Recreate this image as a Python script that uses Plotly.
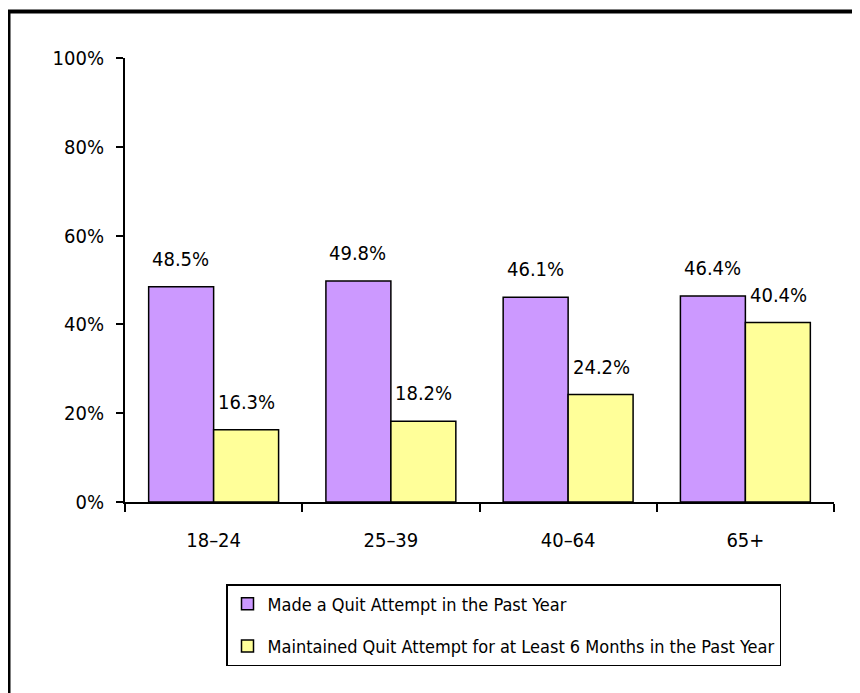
import plotly.graph_objects as go

categories = ["18–24", "25–39", "40–64", "65+"]
made_attempt = [48.5, 49.8, 46.1, 46.4]
maintained = [16.3, 18.2, 24.2, 40.4]
series_names = ["Made a Quit Attempt in the Past Year",
                "Maintained Quit Attempt for at Least 6 Months in the Past Year"]
y_ticks = [0, 20, 40, 60, 80, 100]

FONT = "DejaVu Sans Condensed, Liberation Sans Narrow, Arial Narrow, sans-serif"
W, H = 852, 685
L, R, T, B = 117, 26, 50, 191

fig = go.Figure()
fig.add_bar(x=categories, y=made_attempt, name=series_names[0],
            marker=dict(color="#CC99FF", line=dict(color="black", width=1.5)),
            legendgroup="a")
fig.add_bar(x=categories, y=maintained, name=series_names[1],
            marker=dict(color="#FFFF99", line=dict(color="black", width=1.5)),
            legendgroup="b")

for vals, shift in ((made_attempt, -33), (maintained, 33)):
    for c, v in zip(categories, vals):
        fig.add_annotation(x=c, y=v, text=f"{v:.1f}%", showarrow=False,
                           xshift=shift, yshift=28, xref="x", yref="y",
                           font=dict(family=FONT, size=20, color="black"))

pw = W - L - R
ph = H - T - B
fig.add_shape(type="rect", xref="paper", yref="paper",
              x0=(0.5 - L) / pw, x1=1.3, y0=-0.8, y1=(H - B - 3.5) / ph,
              line=dict(color="black", width=4), fillcolor="rgba(0,0,0,0)")

fig.update_layout(
    width=W, height=H,
    margin=dict(l=L, r=R, t=T, b=B),
    paper_bgcolor="white", plot_bgcolor="white",
    barmode="group", bargap=0.267, bargroupgap=0,
    font=dict(family=FONT, size=20, color="black"),
    legend=dict(x=(218 - L) / pw, y=(H - B - 576) / ph, xanchor="left", yanchor="top",
                bordercolor="black", borderwidth=1.5, bgcolor="white",
                font=dict(family=FONT, size=18), tracegroupgap=16,
                traceorder="grouped"),
    showlegend=True,
)
fig.update_xaxes(type="category", showline=True, linecolor="black", linewidth=2,
                 ticks="outside", tickson="boundaries", ticklen=8, tickwidth=2,
                 tickcolor="black", ticklabelstandoff=19, showgrid=False,
                 tickfont=dict(family=FONT, size=20))
fig.update_yaxes(range=[0, 100], tickvals=y_ticks, ticktext=[f"{t}%" for t in y_ticks],
                 showline=True, linecolor="black", linewidth=2, ticks="outside",
                 ticklen=7, tickwidth=2, tickcolor="black", showgrid=False,
                 zeroline=False, ticklabelstandoff=8,
                 tickfont=dict(family=FONT, size=20))

fig.write_html("out.html")
